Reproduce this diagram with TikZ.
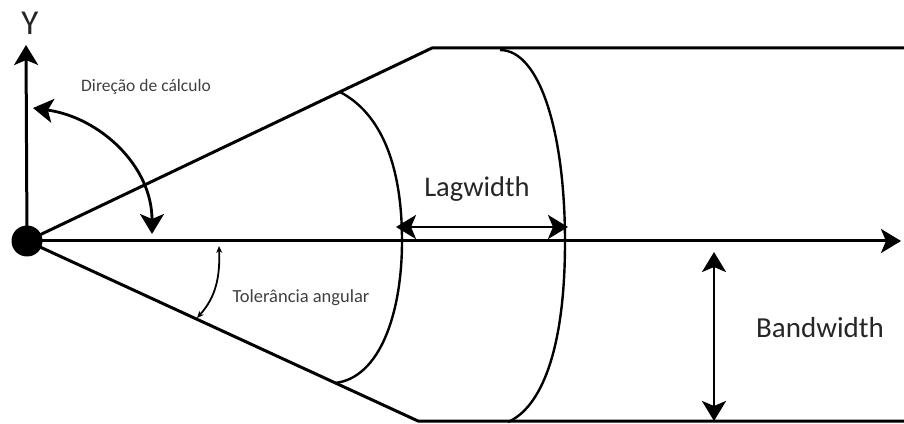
\documentclass[tikz,border=0pt]{standalone}
\usepackage{fontspec}
\setmainfont{Carlito}
\usetikzlibrary{arrows.meta,positioning}

\begin{document}
\begin{tikzpicture}[
    x=1pt, y=1pt,
    line/.style={line width=3pt},
    curve/.style={line width=2.4pt},
    bigarrow/.style={line width=2.8pt, {Stealth[length=20pt,width=24pt,inset=5pt]}-{Stealth[length=20pt,width=24pt,inset=5pt]}},
    tip/.style={line width=3pt, -{Stealth[length=20pt,width=24pt,inset=5pt]}},
    label/.style={anchor=base, text=black!85}
]
    \useasboundingbox (0,0) rectangle (904,423);

    % Origin and axes
    \node[circle, fill=black, minimum size=31pt, inner sep=0pt] (origin) at (27,182) {};
    \coordinate (ytip) at (26,378);
    \coordinate (xtip) at (901,182);
    \draw[tip] (origin.center) -- (ytip);
    \draw[tip] (origin.center) -- (xtip);
    \node[label, font=\fontsize{35}{35}\selectfont] (ylab) at (30,388) {Y};

    % Search cone
    \coordinate (topcorner) at (432,375);
    \coordinate (botcorner) at (418,2);
    \coordinate (topend) at (904,375);
    \coordinate (botend) at (904,2);
    \draw[line, line join=round] (origin.center) -- (topcorner) -- (topend);
    \draw[line, line join=round] (origin.center) -- (botcorner) -- (botend);

    % Lag arcs
    \draw[curve] (340,331) .. controls (380,310) and (402,260) .. (402,182)
                 .. controls (402,110) and (380,45) .. (335,40);
    \draw[curve] (500,373) .. controls (540,373) and (565,290) .. (565,181)
                 .. controls (565,70) and (540,15) .. (508,1);

    % Direction of calculation
    \coordinate (dirA) at (33,315);
    \coordinate (dirB) at (152,189);
    \draw[bigarrow] (dirA) to[out=-8, in=90] (dirB);
    \node[label, text=black!75, font=\fontsize{17.5}{17.5}\selectfont] (dirlab) at (146,331) {Direção de cálculo};

    % Angular tolerance
    \coordinate (tolA) at (219,177);
    \coordinate (tolB) at (197,105);
    \draw[line width=1.8pt, {Stealth[length=7pt,width=6pt]}-{Stealth[length=7pt,width=6pt]}]
        (tolA) to[out=-88, in=48] (tolB);
    \node[label, text=black!75, font=\fontsize{18.5}{18.5}\selectfont] (tollab) at (301,121) {Tolerância angular};

    % Lag width
    \coordinate (lagL) at (396,196);
    \coordinate (lagR) at (568,196);
    \draw[bigarrow] (lagL) -- (lagR);
    \node[label, font=\fontsize{28.5}{28.5}\selectfont] (laglab) at (477,226) {Lagwidth};

    % Band width
    \coordinate (bandT) at (714,171);
    \coordinate (bandB) at (714,2);
    \draw[bigarrow] (bandT) -- (bandB);
    \node[label, font=\fontsize{29}{29}\selectfont] (bandlab) at (820,86) {Bandwidth};
\end{tikzpicture}
\end{document}
